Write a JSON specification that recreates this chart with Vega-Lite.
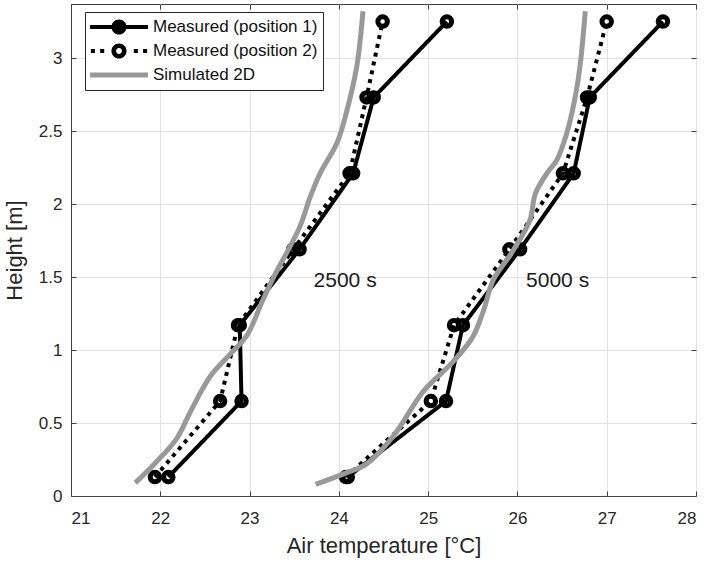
{
  "$schema": "https://vega.github.io/schema/vega-lite/v6.json",
  "autosize": {"type": "none"},
  "padding": {"left": 71, "top": 4, "right": 11, "bottom": 66},
  "width": 625,
  "height": 492,
  "background": "white",
  "config": {
    "font": "Liberation Sans",
    "view": {"stroke": "#404040", "strokeWidth": 1},
    "axis": {
      "gridColor": "#e2e2e2",
      "gridWidth": 1,
      "domainColor": "#404040",
      "tickColor": "#404040",
      "tickSize": -5,
      "labelFont": "Liberation Sans",
      "labelFontSize": 17,
      "labelColor": "#262626",
      "titleFont": "Liberation Sans",
      "titleFontSize": 22,
      "titleFontWeight": "normal",
      "titleColor": "#262626"
    },
    "legend": {
      "orient": "none",
      "legendX": 14,
      "legendY": 8,
      "padding": 5,
      "strokeColor": "#262626",
      "fillColor": "white",
      "labelFont": "Liberation Sans",
      "labelFontSize": 17,
      "labelLimit": 400,
      "labelColor": "#111111",
      "clipHeight": 20,
      "rowPadding": 4,
      "symbolSize": 100
    }
  },
  "datasets": {
    "measured": [
      {"series": "Measured (position 1)", "time": "2500 s", "t": 22.09, "h": 0.13},
      {"series": "Measured (position 1)", "time": "2500 s", "t": 22.91, "h": 0.65},
      {"series": "Measured (position 1)", "time": "2500 s", "t": 22.89, "h": 1.17},
      {"series": "Measured (position 1)", "time": "2500 s", "t": 23.56, "h": 1.69},
      {"series": "Measured (position 1)", "time": "2500 s", "t": 24.16, "h": 2.21},
      {"series": "Measured (position 1)", "time": "2500 s", "t": 24.39, "h": 2.73},
      {"series": "Measured (position 1)", "time": "2500 s", "t": 25.21, "h": 3.25},
      {"series": "Measured (position 2)", "time": "2500 s", "t": 21.94, "h": 0.13},
      {"series": "Measured (position 2)", "time": "2500 s", "t": 22.67, "h": 0.65},
      {"series": "Measured (position 2)", "time": "2500 s", "t": 22.87, "h": 1.17},
      {"series": "Measured (position 2)", "time": "2500 s", "t": 23.49, "h": 1.69},
      {"series": "Measured (position 2)", "time": "2500 s", "t": 24.12, "h": 2.21},
      {"series": "Measured (position 2)", "time": "2500 s", "t": 24.31, "h": 2.73},
      {"series": "Measured (position 2)", "time": "2500 s", "t": 24.49, "h": 3.25},
      {"series": "Measured (position 1)", "time": "5000 s", "t": 24.1, "h": 0.13},
      {"series": "Measured (position 1)", "time": "5000 s", "t": 25.2, "h": 0.65},
      {"series": "Measured (position 1)", "time": "5000 s", "t": 25.39, "h": 1.17},
      {"series": "Measured (position 1)", "time": "5000 s", "t": 26.03, "h": 1.69},
      {"series": "Measured (position 1)", "time": "5000 s", "t": 26.63, "h": 2.21},
      {"series": "Measured (position 1)", "time": "5000 s", "t": 26.81, "h": 2.73},
      {"series": "Measured (position 1)", "time": "5000 s", "t": 27.63, "h": 3.25},
      {"series": "Measured (position 2)", "time": "5000 s", "t": 24.08, "h": 0.13},
      {"series": "Measured (position 2)", "time": "5000 s", "t": 25.03, "h": 0.65},
      {"series": "Measured (position 2)", "time": "5000 s", "t": 25.29, "h": 1.17},
      {"series": "Measured (position 2)", "time": "5000 s", "t": 25.91, "h": 1.69},
      {"series": "Measured (position 2)", "time": "5000 s", "t": 26.51, "h": 2.21},
      {"series": "Measured (position 2)", "time": "5000 s", "t": 26.78, "h": 2.73},
      {"series": "Measured (position 2)", "time": "5000 s", "t": 27.0, "h": 3.25}
    ],
    "simulated": [
      {"series": "Simulated 2D", "time": "2500 s", "t": 21.72, "h": 0.09},
      {"series": "Simulated 2D", "time": "2500 s", "t": 21.95, "h": 0.23},
      {"series": "Simulated 2D", "time": "2500 s", "t": 22.18, "h": 0.39},
      {"series": "Simulated 2D", "time": "2500 s", "t": 22.34, "h": 0.58},
      {"series": "Simulated 2D", "time": "2500 s", "t": 22.56, "h": 0.82},
      {"series": "Simulated 2D", "time": "2500 s", "t": 22.78, "h": 0.97},
      {"series": "Simulated 2D", "time": "2500 s", "t": 22.97, "h": 1.1},
      {"series": "Simulated 2D", "time": "2500 s", "t": 23.14, "h": 1.33},
      {"series": "Simulated 2D", "time": "2500 s", "t": 23.27, "h": 1.5},
      {"series": "Simulated 2D", "time": "2500 s", "t": 23.56, "h": 1.84},
      {"series": "Simulated 2D", "time": "2500 s", "t": 23.68, "h": 2.05},
      {"series": "Simulated 2D", "time": "2500 s", "t": 23.79, "h": 2.21},
      {"series": "Simulated 2D", "time": "2500 s", "t": 23.98, "h": 2.42},
      {"series": "Simulated 2D", "time": "2500 s", "t": 24.09, "h": 2.64},
      {"series": "Simulated 2D", "time": "2500 s", "t": 24.2, "h": 2.94},
      {"series": "Simulated 2D", "time": "2500 s", "t": 24.27, "h": 3.32},
      {"series": "Simulated 2D", "time": "5000 s", "t": 23.74, "h": 0.08},
      {"series": "Simulated 2D", "time": "5000 s", "t": 24.09, "h": 0.16},
      {"series": "Simulated 2D", "time": "5000 s", "t": 24.31, "h": 0.22},
      {"series": "Simulated 2D", "time": "5000 s", "t": 24.61, "h": 0.41},
      {"series": "Simulated 2D", "time": "5000 s", "t": 24.95, "h": 0.72},
      {"series": "Simulated 2D", "time": "5000 s", "t": 25.28, "h": 0.92},
      {"series": "Simulated 2D", "time": "5000 s", "t": 25.5, "h": 1.09},
      {"series": "Simulated 2D", "time": "5000 s", "t": 25.62, "h": 1.27},
      {"series": "Simulated 2D", "time": "5000 s", "t": 25.73, "h": 1.48},
      {"series": "Simulated 2D", "time": "5000 s", "t": 25.95, "h": 1.68},
      {"series": "Simulated 2D", "time": "5000 s", "t": 26.14, "h": 1.89},
      {"series": "Simulated 2D", "time": "5000 s", "t": 26.2, "h": 2.07},
      {"series": "Simulated 2D", "time": "5000 s", "t": 26.33, "h": 2.21},
      {"series": "Simulated 2D", "time": "5000 s", "t": 26.44, "h": 2.3},
      {"series": "Simulated 2D", "time": "5000 s", "t": 26.55, "h": 2.48},
      {"series": "Simulated 2D", "time": "5000 s", "t": 26.64, "h": 2.71},
      {"series": "Simulated 2D", "time": "5000 s", "t": 26.7, "h": 2.94},
      {"series": "Simulated 2D", "time": "5000 s", "t": 26.76, "h": 3.32}
    ],
    "labels": [
      {"label": "2500 s", "t": 24.07, "h": 1.47},
      {"label": "5000 s", "t": 26.45, "h": 1.47}
    ]
  },
  "resolve": {"axis": {"x": "independent", "y": "independent"}},
  "layer": [
    {
      "data": {"name": "measured"},
      "mark": {"type": "line", "strokeWidth": 4, "strokeCap": "butt", "strokeJoin": "miter"},
      "encoding": {
        "x": {
          "field": "t", "type": "quantitative",
          "scale": {"domain": [21, 28], "nice": false, "zero": false},
          "axis": {"values": [21, 22, 23, 24, 25, 26, 27, 28], "grid": true, "labelPadding": 19, "title": "Air temperature [°C]", "titlePadding": 9}
        },
        "y": {
          "field": "h", "type": "quantitative",
          "scale": {"domain": [0, 3.37], "nice": false, "zero": false},
          "axis": {"values": [0, 0.5, 1, 1.5, 2, 2.5, 3], "format": "~g", "grid": true, "labelPadding": 14, "title": "Height [m]", "titlePadding": 12}
        },
        "color": {
          "field": "series", "type": "nominal",
          "scale": {"domain": ["Measured (position 1)", "Measured (position 2)", "Simulated 2D"], "range": ["#000000", "#000000", "#999999"]},
          "legend": {
            "title": null,
            "encode": {
              "symbols": {
                "update": {
                  "shape": {"signal": "datum.value === 'Simulated 2D' ? 'M-1,-0.09H1V0.09H-1Z' : datum.value === 'Measured (position 1)' ? 'M-1,-0.07H1V0.07H-1Z M0.26,0A0.26,0.26 0 1,1 -0.26,0A0.26,0.26 0 1,1 0.26,0Z' : 'M-0.97,-0.07H-0.83V0.07H-0.97Z M-0.65,-0.07H-0.51V0.07H-0.65Z M0.51,-0.07H0.65V0.07H0.51Z M0.83,-0.07H0.97V0.07H0.83Z M0.26,0A0.26,0.26 0 1,1 -0.26,0A0.26,0.26 0 1,1 0.26,0Z M0.1,0A0.1,0.1 0 1,0 -0.1,0A0.1,0.1 0 1,0 0.1,0Z'"},
                  "size": {"value": 3364},
                  "fill": {"signal": "datum.value === 'Simulated 2D' ? '#999999' : '#000000'"},
                  "fillOpacity": {"value": 1},
                  "opacity": {"value": 1},
                  "stroke": {"value": "transparent"},
                  "strokeWidth": {"value": 0},
                  "x": {"value": 29}
                }
              },
              "labels": {
                "update": {"x": {"value": 63}}
              }
            }
          }
        },
        "strokeDash": {
          "field": "series", "type": "nominal",
          "scale": {"domain": ["Measured (position 1)", "Measured (position 2)"], "range": [[1, 0], [4, 5]]},
          "legend": null
        },
        "detail": {"field": "time"},
        "order": {"field": "h", "type": "quantitative"}
      }
    },
    {
      "data": {"name": "measured"},
      "mark": {"type": "point", "shape": "circle", "filled": false, "size": 90, "strokeWidth": 5, "color": "#000000", "opacity": 1},
      "encoding": {
        "x": {"field": "t", "type": "quantitative", "axis": null},
        "y": {"field": "h", "type": "quantitative", "axis": null}
      }
    },
    {
      "data": {"name": "simulated"},
      "mark": {"type": "line", "strokeWidth": 5, "interpolate": "catmull-rom", "strokeCap": "butt"},
      "encoding": {
        "x": {"field": "t", "type": "quantitative", "axis": null},
        "y": {"field": "h", "type": "quantitative", "axis": null},
        "color": {"field": "series", "type": "nominal"},
        "detail": {"field": "time"},
        "order": {"field": "h", "type": "quantitative"}
      }
    },
    {
      "data": {"name": "labels"},
      "mark": {"type": "text", "fontSize": 21, "font": "Liberation Sans", "color": "#1a1a1a", "align": "center", "baseline": "middle"},
      "encoding": {
        "x": {"field": "t", "type": "quantitative", "axis": {"orient": "top", "values": [21, 22, 23, 24, 25, 26, 27, 28], "labels": false, "grid": false, "domain": false, "title": null}},
        "y": {"field": "h", "type": "quantitative", "axis": {"orient": "right", "values": [0, 0.5, 1, 1.5, 2, 2.5, 3], "labels": false, "grid": false, "domain": false, "title": null}},
        "text": {"field": "label"}
      }
    }
  ]
}
